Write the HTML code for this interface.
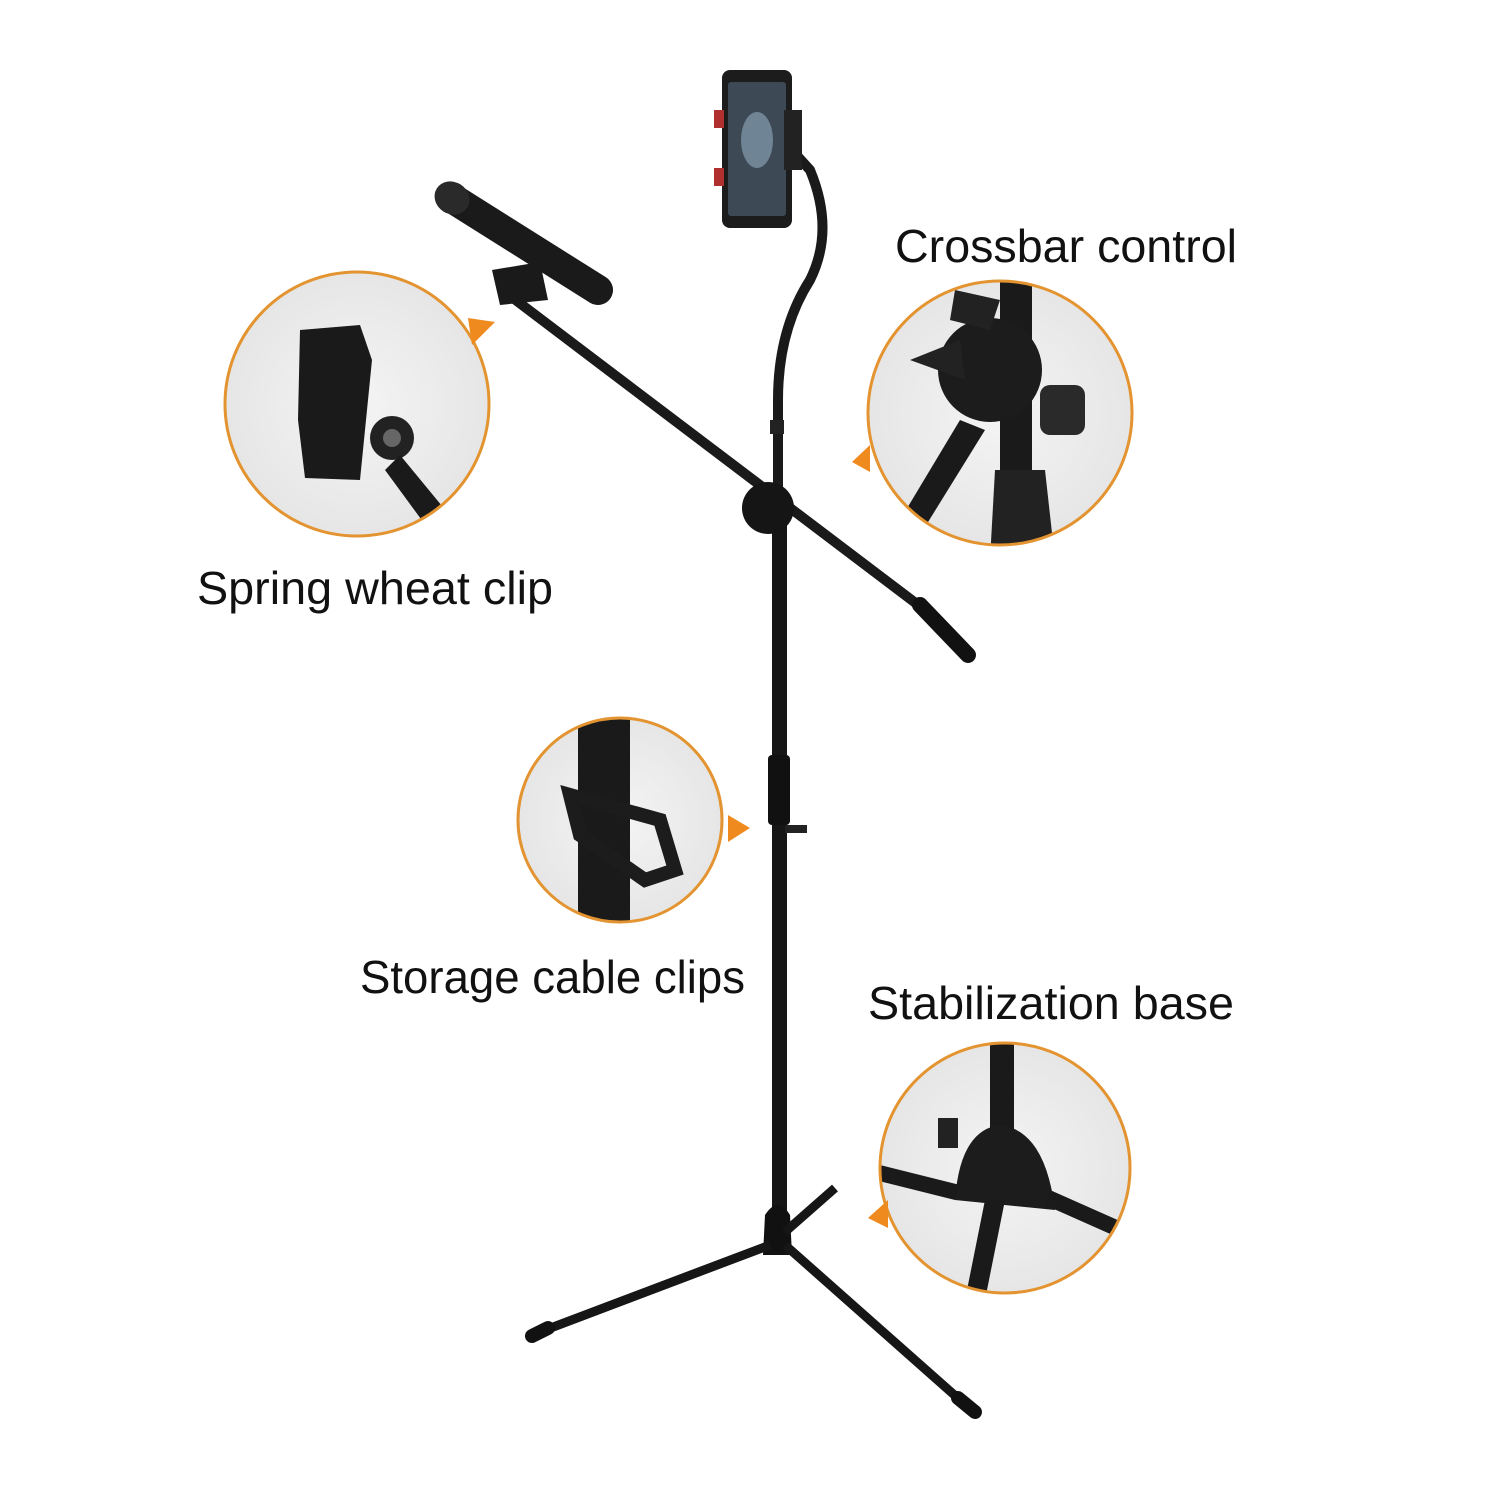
<!DOCTYPE html>
<html><head><meta charset="utf-8"><style>
html,body{margin:0;padding:0;background:#fff;}
svg{display:block}
text{font-family:"Liberation Sans",sans-serif;fill:#111;}
</style></head><body>
<svg width="1500" height="1500" viewBox="0 0 1500 1500" xmlns="http://www.w3.org/2000/svg">
<rect width="1500" height="1500" fill="#fff"/>
<defs>
<radialGradient id="cg" cx="50%" cy="50%" r="50%"><stop offset="0" stop-color="#f4f4f4"/><stop offset="1" stop-color="#e6e6e6"/></radialGradient>
<clipPath id="c1"><circle cx="357" cy="404" r="132"/></clipPath>
<clipPath id="c2"><circle cx="1000" cy="413" r="132"/></clipPath>
<clipPath id="c3"><circle cx="620" cy="820" r="102"/></clipPath>
<clipPath id="c4"><circle cx="1005" cy="1168" r="125"/></clipPath>
</defs>

<!-- circle 1: spring clip -->
<circle cx="357" cy="404" r="132" fill="url(#cg)"/>
<g clip-path="url(#c1)">
<path d="M300 330 L360 325 L372 360 L360 480 L305 478 L298 420 Z" fill="#1a1a1a"/>
<circle cx="392" cy="438" r="22" fill="#222"/><circle cx="392" cy="438" r="9" fill="#666"/>
<path d="M400 455 L470 540 L440 545 L385 470 Z" fill="#1a1a1a"/>
</g>
<circle cx="357" cy="404" r="132" fill="none" stroke="#e39430" stroke-width="3"/>
<polygon points="468,318 495,322 472,345" fill="#ef8a1e"/>

<!-- circle 2: crossbar -->
<circle cx="1000" cy="413" r="132" fill="url(#cg)"/>
<g clip-path="url(#c2)">
<rect x="1000" y="270" width="32" height="290" fill="#1a1a1a"/>
<circle cx="990" cy="370" r="52" fill="#1c1c1c"/>
<path d="M910 360 L960 340 L965 380 Z" fill="#222"/>
<rect x="1040" y="385" width="45" height="50" rx="10" fill="#2a2a2a"/>
<path d="M960 420 L900 520 L920 535 L985 430 Z" fill="#1a1a1a"/>
<path d="M995 470 L1045 470 L1055 560 L990 560 Z" fill="#222"/>
<path d="M955 290 L1000 300 L990 330 L950 320 Z" fill="#222"/>
</g>
<circle cx="1000" cy="413" r="132" fill="none" stroke="#e39430" stroke-width="3"/>
<polygon points="870,445 870,472 852,462" fill="#ef8a1e"/>

<!-- circle 3: cable clip -->
<circle cx="620" cy="820" r="102" fill="url(#cg)"/>
<g clip-path="url(#c3)">
<rect x="578" y="700" width="52" height="240" fill="#1a1a1a"/>
<path d="M570 795 L660 820 L675 870 L645 880 L580 835 Z" fill="none" stroke="#1c1c1c" stroke-width="14"/>
</g>
<circle cx="620" cy="820" r="102" fill="none" stroke="#e39430" stroke-width="3"/>
<polygon points="728,815 750,828 728,842" fill="#ef8a1e"/>

<!-- circle 4: base -->
<circle cx="1005" cy="1168" r="125" fill="url(#cg)"/>
<g clip-path="url(#c4)">
<rect x="990" y="1040" width="24" height="90" fill="#1a1a1a"/>
<path d="M955 1200 Q960 1130 1000 1125 Q1045 1130 1055 1210 Z" fill="#1c1c1c"/>
<rect x="938" y="1118" width="20" height="30" fill="#222"/>
<path d="M880 1165 L960 1185 L955 1200 L875 1180 Z" fill="#1a1a1a"/>
<path d="M1050 1190 L1140 1230 L1135 1245 L1045 1205 Z" fill="#1a1a1a"/>
<path d="M985 1200 L1005 1200 L985 1300 L965 1300 Z" fill="#1a1a1a"/>
</g>
<circle cx="1005" cy="1168" r="125" fill="none" stroke="#e39430" stroke-width="3"/>
<polygon points="888,1200 888,1228 868,1218" fill="#ef8a1e"/>

<!-- stand: main pole -->
<rect x="772" y="520" width="15" height="720" fill="#161616"/>
<rect x="768" y="755" width="22" height="70" rx="4" fill="#111"/>
<rect x="785" y="825" width="22" height="8" fill="#222"/>
<!-- gooseneck -->
<path d="M778 520 L778 400 Q778 330 810 280 Q835 230 810 170 L790 148" fill="none" stroke="#1a1a1a" stroke-width="10"/>
<rect x="770" y="420" width="14" height="14" fill="#222"/>
<!-- phone -->
<rect x="722" y="70" width="70" height="158" rx="8" fill="#1c1c1c"/>
<rect x="728" y="82" width="58" height="134" rx="3" fill="#3d4a55"/>
<ellipse cx="757" cy="140" rx="16" ry="28" fill="#6f8494"/>
<rect x="714" y="110" width="10" height="18" fill="#b03030"/>
<rect x="714" y="168" width="10" height="18" fill="#b03030"/>
<rect x="784" y="110" width="18" height="60" fill="#222"/>
<!-- boom arm -->
<line x1="505" y1="292" x2="938" y2="620" stroke="#1a1a1a" stroke-width="10"/>
<line x1="920" y1="605" x2="968" y2="655" stroke="#111" stroke-width="16" stroke-linecap="round"/>
<circle cx="768" cy="508" r="26" fill="#151515"/>
<!-- mic clip + mic -->
<path d="M492 270 L540 262 L548 300 L500 305 Z" fill="#1a1a1a"/>
<line x1="455" y1="200" x2="598" y2="290" stroke="#1a1a1a" stroke-width="30" stroke-linecap="round"/>
<ellipse cx="452" cy="198" rx="18" ry="16" fill="#2a2a2a" transform="rotate(32 452 198)"/>
<!-- tripod -->
<path d="M765 1215 Q778 1195 790 1215 L792 1255 L763 1255 Z" fill="#111"/>
<line x1="770" y1="1245" x2="540" y2="1332" stroke="#161616" stroke-width="9"/>
<line x1="548" y1="1328" x2="532" y2="1336" stroke="#111" stroke-width="14" stroke-linecap="round"/>
<line x1="785" y1="1245" x2="960" y2="1400" stroke="#161616" stroke-width="9"/>
<line x1="958" y1="1398" x2="975" y2="1412" stroke="#111" stroke-width="14" stroke-linecap="round"/>
<line x1="785" y1="1232" x2="835" y2="1188" stroke="#161616" stroke-width="9"/>

<!-- labels -->
<text x="197" y="604" font-size="46" textLength="356" lengthAdjust="spacingAndGlyphs">Spring wheat clip</text>
<text x="895" y="262" font-size="46" textLength="342" lengthAdjust="spacingAndGlyphs">Crossbar control</text>
<text x="360" y="993" font-size="46" textLength="385" lengthAdjust="spacingAndGlyphs">Storage cable clips</text>
<text x="868" y="1019" font-size="46" textLength="366" lengthAdjust="spacingAndGlyphs">Stabilization base</text>
</svg>
</body></html>
